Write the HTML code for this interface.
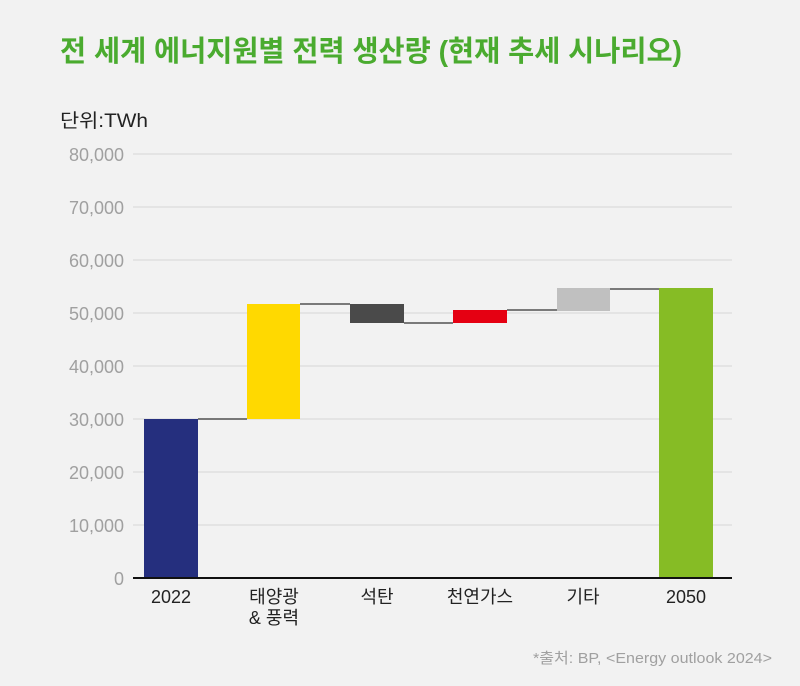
<!DOCTYPE html>
<html><head><meta charset="utf-8"><style>
body{margin:0;background:#f2f2f2;}
svg{display:block}
text{font-family:"Liberation Sans","Noto Sans CJK KR",sans-serif}
</style></head><body>
<svg width="800" height="686" viewBox="0 0 800 686" xmlns="http://www.w3.org/2000/svg">
<rect width="800" height="686" fill="#f2f2f2"/>
<text x="60" y="61" font-size="29" font-weight="bold" fill="#4aab2f" textLength="622" lengthAdjust="spacingAndGlyphs" font-family="'Noto Sans CJK KR',sans-serif">전 세계 에너지원별 전력 생산량 (현재 추세 시나리오)</text>
<text x="60" y="127" font-size="19" fill="#222" textLength="88" lengthAdjust="spacingAndGlyphs" font-family="'Noto Sans CJK KR',sans-serif">단위:TWh</text>
<g stroke="#dcdcdc" stroke-width="1.2">
<line x1="133" x2="732" y1="154" y2="154"/><line x1="133" x2="732" y1="207" y2="207"/>
<line x1="133" x2="732" y1="260" y2="260"/><line x1="133" x2="732" y1="313" y2="313"/>
<line x1="133" x2="732" y1="366" y2="366"/><line x1="133" x2="732" y1="419" y2="419"/>
<line x1="133" x2="732" y1="472" y2="472"/><line x1="133" x2="732" y1="525" y2="525"/>
</g>
<g font-size="18" fill="#a0a0a0" text-anchor="end">
<text x="124" y="161">80,000</text><text x="124" y="214">70,000</text>
<text x="124" y="267">60,000</text><text x="124" y="320">50,000</text>
<text x="124" y="373">40,000</text><text x="124" y="426">30,000</text>
<text x="124" y="479">20,000</text><text x="124" y="532">10,000</text>
<text x="124" y="585">0</text>
</g>
<g stroke="#333" stroke-width="1.3">
<line x1="198" x2="247" y1="419" y2="419"/>
<line x1="300" x2="350" y1="304" y2="304"/>
<line x1="404" x2="453" y1="323" y2="323"/>
<line x1="507" x2="557" y1="310" y2="310"/>
<line x1="610" x2="659" y1="289" y2="289"/>
</g>
<rect x="144" y="419" width="54" height="159" fill="#252f7e"/>
<rect x="247" y="304" width="53" height="115" fill="#ffd900"/>
<rect x="350" y="304" width="54" height="19" fill="#4a4a4a"/>
<rect x="453" y="310" width="54" height="13" fill="#e50012"/>
<rect x="557" y="288" width="53" height="23" fill="#c0c0c0"/>
<rect x="659" y="288" width="54" height="290" fill="#86bc25"/>
<line x1="133" x2="732" y1="578" y2="578" stroke="#111" stroke-width="2"/>
<g font-size="18" fill="#222" text-anchor="middle" font-family="'Noto Sans CJK KR',sans-serif">
<text x="171" y="603">2022</text>
<text x="274" y="603">태양광</text><text x="274" y="624">&amp; 풍력</text>
<text x="377" y="603">석탄</text>
<text x="480" y="603">천연가스</text>
<text x="583" y="603">기타</text>
<text x="686" y="603">2050</text>
</g>
<text x="533" y="663" font-size="15" fill="#a0a0a0" textLength="239" lengthAdjust="spacingAndGlyphs" font-family="'Noto Sans CJK KR',sans-serif">*출처: BP, &lt;Energy outlook 2024&gt;</text>
</svg>
</body></html>
